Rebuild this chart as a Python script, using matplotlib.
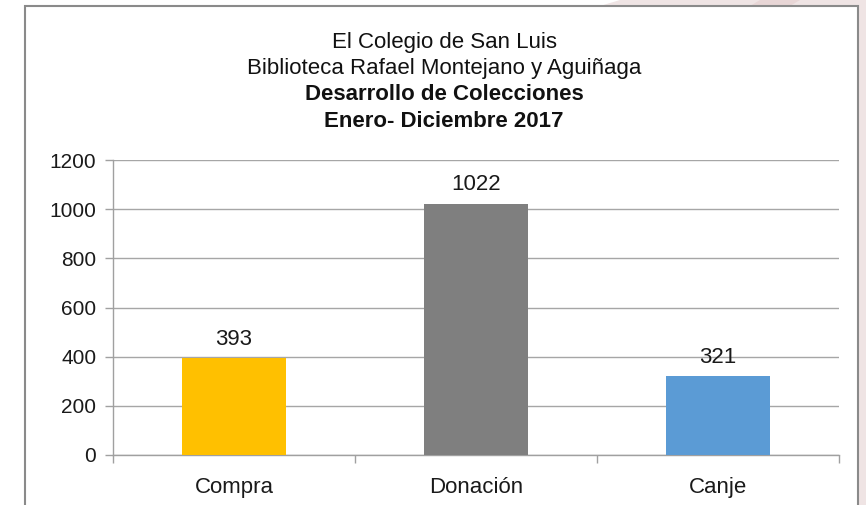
import matplotlib.pyplot as plt
from matplotlib.patches import Rectangle, Polygon

# datos del grafico
categorias = ["Compra", "Donación", "Canje"]
valores = [393, 1022, 321]
colores = ["#FFC000", "#7F7F7F", "#5B9BD5"]
titulo = ["El Colegio de San Luis",
          "Biblioteca Rafael Montejano y Aguiñaga",
          "Desarrollo de Colecciones",
          "Enero- Diciembre 2017"]
yticks = [0, 200, 400, 600, 800, 1000, 1200]

plt.rcParams['font.family'] = ['Liberation Sans', 'DejaVu Sans']

W, H = 866, 505
fig = plt.figure(figsize=(W / 100, H / 100), dpi=100)
fig.patch.set_facecolor("white")

# fondo rosado de la diapositiva (esquina superior derecha)
fig.patches.append(Polygon([(620 / W, 1), (W / W, 1), (1, 0), (858 / W, 0), (858 / W, 1 - 6 / H), (600 / W, 1 - 6 / H)],
                           closed=True, transform=fig.transFigure, facecolor="#efe4e4", edgecolor="none", zorder=0))
fig.patches.append(Polygon([(760 / W, 1), (800 / W, 1), (790 / W, 1 - 6 / H), (750 / W, 1 - 6 / H)],
                           closed=True, transform=fig.transFigure, facecolor="#e8d6d6", edgecolor="none", zorder=0))
# marco del grafico
fig.patches.append(Rectangle((25 / W, -0.05), (858 - 25) / W, 1 - 6 / H + 0.05, transform=fig.transFigure,
                             facecolor="white", edgecolor="#8a8a8a", linewidth=1.5, zorder=1))

ax = fig.add_axes([113 / W, 1 - 455 / H, (839 - 113) / W, (455 - 160) / H])
ax.set_facecolor("none")
ax.set_zorder(2)

x = range(len(categorias))
bars = ax.bar(x, valores, width=0.43, color=colores, zorder=3)

for i, v in enumerate(valores):
    ax.annotate(str(v), (i, v), xytext=(0, 6), textcoords="offset points",
                ha="center", va="bottom", fontsize=16, color="#1a1a1a", zorder=4)

ax.set_xlim(-0.5, 2.5)
ax.set_ylim(0, 1200)
ax.set_yticks(yticks)
ax.set_yticklabels([str(t) for t in yticks], fontsize=15, color="#1a1a1a")
ax.set_xticks(list(x))
ax.set_xticklabels(categorias, fontsize=16, color="#1a1a1a")
ax.set_xticks([-0.5, 0.5, 1.5, 2.5], minor=True)

ax.tick_params(axis="y", length=6, width=1, color="#a0a0a0", pad=6)
ax.tick_params(axis="x", which="major", length=0, pad=16)
ax.tick_params(axis="x", which="minor", length=6, width=1, color="#a0a0a0")

ax.grid(axis="y", color="#a6a6a6", linewidth=1, zorder=0)
ax.set_axisbelow(True)
for s in ["top", "right"]:
    ax.spines[s].set_visible(False)
for s in ["left", "bottom"]:
    ax.spines[s].set_color("#a0a0a0")
    ax.spines[s].set_linewidth(1)

# titulo en cuatro lineas (lineas base)
ys = [48, 74, 100, 127]
for i, t in enumerate(titulo):
    fig.text(444 / W, 1 - ys[i] / H, t, ha="center", va="baseline", fontsize=16,
             fontweight="bold" if i >= 2 else "normal", color="#111111", zorder=5)

fig.savefig("out.png", dpi=100)
